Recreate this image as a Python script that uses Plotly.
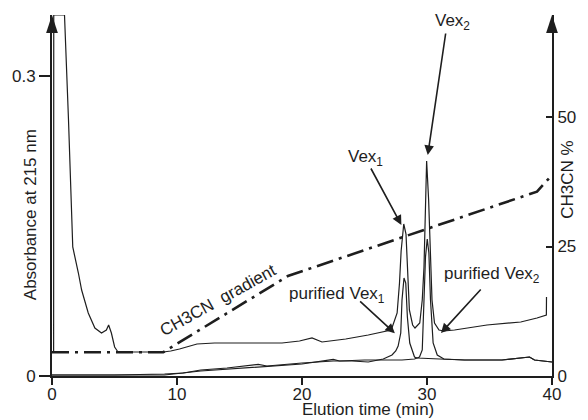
import plotly.graph_objects as go

# ---------------- data ----------------
# Crude extract chromatogram (absorbance at 215 nm)
crude_t = [0.0, 0.13, 0.14, 1.0, 1.32, 1.66, 2.11, 2.37, 2.90, 3.43, 3.96, 4.35, 4.53, 4.75, 5.01, 5.28,
           8.9, 9.5, 10.2, 11.0, 11.6, 13.0, 15.8, 18.4, 19.8, 20.8, 21.6, 23.5, 25.3, 26.3, 26.9,
           27.14, 27.61, 27.80, 27.93, 28.06, 28.14, 28.32, 28.46, 28.59, 28.85, 29.04,
           29.42, 29.62, 29.76, 29.84, 29.92, 29.97, 30.13, 30.27, 30.40, 30.60, 30.96, 31.36,
           32.2, 34.8, 37.5, 38.8, 39.45, 39.55, 39.56]
crude_a = [0.024, 0.024, 0.361, 0.361, 0.256, 0.129, 0.103, 0.086, 0.063, 0.048, 0.043, 0.046, 0.051, 0.043, 0.029, 0.024,
           0.024, 0.025, 0.027, 0.030, 0.032, 0.033, 0.033, 0.033, 0.035, 0.038, 0.034, 0.037, 0.041, 0.044, 0.046,
           0.046, 0.063, 0.093, 0.125, 0.148, 0.152, 0.142, 0.093, 0.066, 0.051, 0.048,
           0.053, 0.076, 0.109, 0.142, 0.176, 0.215, 0.176, 0.126, 0.076, 0.053, 0.046, 0.045,
           0.046, 0.051, 0.054, 0.058, 0.061, 0.061, 0.079]

# Purified Vex1 chromatogram
pv1_t = [0.0, 5.0, 9.0, 10.5, 11.9, 14.0, 16.5, 17.2, 20.0, 22.5, 24.0, 25.3, 26.5, 27.2, 27.5, 27.69,
         27.90, 28.0, 28.16, 28.30, 28.43, 28.62, 29.0, 29.2, 31.0, 33.0, 36.0, 38.2, 38.6, 40.0]
pv1_a = [0.001, 0.001, 0.002, 0.003, 0.006, 0.008, 0.0116, 0.010, 0.013, 0.015, 0.015, 0.014, 0.017, 0.021, 0.025, 0.030,
         0.043, 0.076, 0.098, 0.093, 0.059, 0.033, 0.019, 0.018, 0.017, 0.016, 0.016, 0.019, 0.016, 0.014]

# Purified Vex2 chromatogram
pv2_t = [0.0, 9.0, 11.9, 14.0, 16.5, 20.0, 22.5, 23.0, 25.0, 27.0, 28.0, 29.0, 29.4, 29.62,
         29.75, 29.88, 30.02, 30.15, 30.28, 30.49, 30.82, 31.35, 33.0, 36.0, 38.2, 38.6, 40.0]
pv2_a = [0.001, 0.001, 0.005, 0.007, 0.009, 0.012, 0.0166, 0.015, 0.016, 0.016, 0.016, 0.017, 0.019, 0.026,
         0.076, 0.119, 0.137, 0.123, 0.076, 0.033, 0.021, 0.017, 0.016, 0.016, 0.019, 0.016, 0.014]

# CH3CN gradient (%)
grad_t = [0.0, 8.9, 18.87, 38.8, 40.0]
grad_p = [4.6, 4.6, 19.3, 35.6, 38.8]

x_ticks = [0, 10, 20, 30, 40]
y_ticks = [0, 0.3]
y_ticktext = ["0", "0.3"]
y2_ticks = [0, 25, 50]

# axis ranges
X_RANGE = [0, 40]
Y_RANGE = [0, 0.361]
Y2_RANGE = [0, 69.7]

# ---------------- figure ----------------
FONT = "Liberation Sans, Arial, sans-serif"
INK = "#1e1e1e"
fig = go.Figure()

line_style = dict(color=INK, width=1.2)
fig.add_trace(go.Scatter(x=pv2_t, y=pv2_a, mode="lines", line=line_style, hoverinfo="skip"))
fig.add_trace(go.Scatter(x=pv1_t, y=pv1_a, mode="lines", line=line_style, hoverinfo="skip"))
fig.add_trace(go.Scatter(x=crude_t, y=crude_a, mode="lines", line=line_style, hoverinfo="skip"))
fig.add_trace(go.Scatter(x=grad_t, y=grad_p, mode="lines", yaxis="y2",
                         line=dict(color=INK, width=2.6, dash="17px,6px,3px,6px"), hoverinfo="skip"))

# arrow heads at the top ends of the two vertical axes (tip sits on the axis end)
arrow_marker = dict(symbol="arrow", size=19, color=INK, line=dict(width=0))
fig.add_trace(go.Scatter(x=[X_RANGE[0]], y=[Y_RANGE[1]], mode="markers", marker=arrow_marker,
                         cliponaxis=False, hoverinfo="skip"))
fig.add_trace(go.Scatter(x=[X_RANGE[1]], y=[Y2_RANGE[1]], yaxis="y2", mode="markers",
                         marker=arrow_marker, cliponaxis=False, hoverinfo="skip"))

tickfont = dict(family=FONT, size=17, color=INK)
fig.update_layout(
    width=588, height=420,
    margin=dict(l=50, r=33, t=15, b=44),
    paper_bgcolor="white", plot_bgcolor="white",
    showlegend=False,
    xaxis=dict(range=X_RANGE, tickvals=x_ticks, ticks="outside", ticklen=7, tickwidth=1.5,
               tickcolor=INK, showline=True, linewidth=2, linecolor=INK, showgrid=False,
               zeroline=False, tickfont=tickfont, ticklabelstandoff=-5),
    yaxis=dict(range=Y_RANGE, tickvals=y_ticks, ticktext=y_ticktext, ticks="outside", ticklen=11,
               tickwidth=1.5, tickcolor=INK, showline=True, linewidth=2, linecolor=INK,
               showgrid=False, zeroline=False, tickfont=tickfont),
    yaxis2=dict(range=Y2_RANGE, tickvals=y2_ticks, overlaying="y", side="right", ticks="inside",
                ticklen=6, tickwidth=1.5, tickcolor=INK, showline=True, linewidth=2, linecolor=INK,
                showgrid=False, zeroline=False, tickfont=tickfont),
)

afont = dict(family=FONT, size=17, color=INK)
# axis titles
fig.add_annotation(text="Absorbance at 215 nm", xref="paper", yref="paper", x=-0.0416, y=0.446,
                   textangle=-90, showarrow=False, font=afont, xanchor="center", yanchor="middle")
fig.add_annotation(text="CH3CN %", xref="paper", yref="paper", x=1.0317, y=0.543,
                   textangle=-90, showarrow=False, font=afont, xanchor="center", yanchor="middle")
fig.add_annotation(text="Elution time (min)", xref="paper", yref="paper", x=0.632, y=-0.094,
                   showarrow=False, font=afont, xanchor="center", yanchor="middle")

# labels
labels = [
    ("Vex<sub>1</sub>", 25.04, 0.218),
    ("Vex<sub>2</sub>", 32.04, 0.354),
    ("purified Vex<sub>1</sub>", 22.78, 0.081),
    ("purified Vex<sub>2</sub>", 35.2, 0.101),
]
for txt, lx, ly in labels:
    fig.add_annotation(text=txt, x=lx, y=ly, xref="x", yref="y", showarrow=False, font=afont,
                       xanchor="center", yanchor="middle")

fig.add_annotation(text="CH3CN\u00a0\u00a0gradient", x=13.25, y=0.076, xref="x", yref="y",
                   showarrow=False, font=afont, textangle=-29, xanchor="center", yanchor="middle")

# pointer arrows (tail -> head)
arrows = [
    (25.45, 0.209, 27.95, 0.151),
    (31.51, 0.344, 30.06, 0.221),
    (24.53, 0.076, 27.43, 0.0427),
    (34.41, 0.088, 31.12, 0.043),
]
for tx, ty, hx, hy in arrows:
    fig.add_annotation(text="", x=hx, y=hy, ax=tx, ay=ty, xref="x", yref="y", axref="x", ayref="y",
                       showarrow=True, arrowhead=2, arrowsize=1.2, arrowwidth=1.6, arrowcolor=INK,
                       standoff=0, startstandoff=0)

fig.write_html("out.html", config={"displayModeBar": False})
